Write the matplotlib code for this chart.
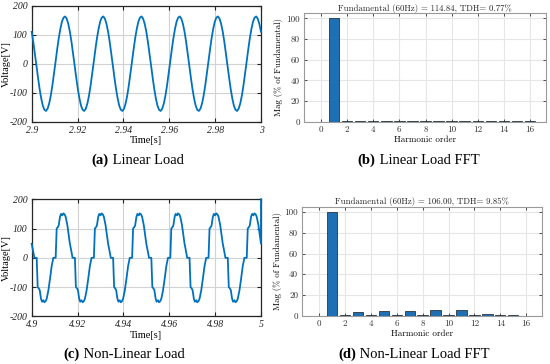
import numpy as np
import matplotlib.pyplot as plt

plt.rcParams['axes.unicode_minus'] = False

# one period (1/60 s) of each voltage waveform
period = 1 / 60
n_cycles = 6

lin_t0 = 2.9
lin_cycle_v = [110, 75, 35, -7, -49, -88, -120, -145, -159, -163, -155, -137,
               -110, -75, -35, 7, 49, 88, 120, 145, 159, 163, 155, 137]

nl_t0 = 4.9
nl_cycle_ms = [0.0, 0.58, 1.16, 2.18, 2.62, 3.05, 3.49, 4.07, 4.50, 5.09, 5.52,
               6.10, 6.54, 7.27, 7.99, 8.72, 9.45, 10.46, 10.90, 11.33, 11.77,
               12.35, 12.79, 13.37, 13.80, 14.39, 14.82, 15.55, 16.27]
nl_cycle_v = [48, 25, 0, 0, -100, -104, -110, -140, -150, -145, -152,
              -148, -140, -112, -72, -28, 0, 0, 100, 104, 110,
              140, 150, 145, 152, 148, 140, 112, 72]
nl_end_spike = 200

harmonics = list(range(0, 17))
lin_mag = [0.0, 100, 0.4, 0.2, 0.3, 0.2, 0.3, 0.2, 0.3, 0.3, 0.5, 0.3, 0.3, 0.2, 0.3, 0.2, 0.2]
nl_mag = [0.0, 100, 0.2, 3.5, 0.2, 4.2, 0.2, 4.5, 0.6, 5.5, 0.2, 5.1, 0.6, 1.6, 0.4, 0.6, 0.1]

lin_title = 'Fundamental (60Hz) = 114.84, TDH= 0.77%'
nl_title = 'Fundamental (60Hz) = 106.00, TDH= 9.85%'

blue = '#0072BD'
bar_face = '#1f6fb4'

W, H = 550, 364


def build_wave(t0, cycle_t, cycle_v):
    t, v = [], []
    for k in range(n_cycles):
        t += [t0 + k * period + x for x in cycle_t]
        v += list(cycle_v)
    t.append(t0 + n_cycles * period)
    v.append(cycle_v[0])
    return np.array(t), np.array(v)


def wave_panel(ax, t, v, xlim, xticks, xticklabels):
    ax.plot(t, v, color=blue, lw=1.3, clip_on=False, zorder=3)
    ax.set_xlim(xlim)
    ax.set_ylim(-200, 200)
    tick_font = {'family': 'Liberation Serif', 'style': 'italic', 'size': 7}
    ax.set_xticks(xticks)
    ax.set_xticklabels(xticklabels, fontdict=tick_font)
    yt = [-200, -100, 0, 100, 200]
    ax.set_yticks(yt)
    ax.set_yticklabels([str(y) for y in yt], fontdict=tick_font)
    ax.grid(True, color='#d2d2d2', lw=0.8)
    ax.tick_params(direction='in', top=True, right=True, length=3, width=0.8,
                   pad=3, colors='#222222')
    for s in ax.spines.values():
        s.set_color('#262626')
        s.set_linewidth(0.9)
    ax.set_ylabel('Voltage[V]', family='Liberation Serif', fontsize=7.5)
    ax.set_xlabel('Time[s]', family='Liberation Serif', fontsize=7.5, labelpad=1)
    pos = ax.get_position()
    ax.yaxis.set_label_coords((11 / W - pos.x0) / pos.width, 0.5)


def fft_panel(ax, mag, title):
    ax.bar(harmonics, mag, width=0.8, color=bar_face, edgecolor='#1a1a1a', lw=0.5, zorder=3)
    ax.set_xlim(-1.3, 17.2)
    ax.set_ylim(0, 105)
    ax.set_xticks(range(0, 17, 2))
    ax.set_yticks(range(0, 101, 20))
    ax.grid(True, color='#e6e6e6', lw=0.8)
    ax.tick_params(direction='in', top=True, right=True, length=2.5, width=0.6,
                   labelsize=6.5, pad=3, colors='#333333')
    for lab in ax.get_xticklabels() + ax.get_yticklabels():
        lab.set_fontfamily('cmr10')
    for s in ax.spines.values():
        s.set_color('#9a9a9a')
        s.set_linewidth(0.8)
    ax.set_title(title, family='cmr10', fontsize=6.3, pad=2, color='#222222')
    ax.set_xlabel('Harmonic order', family='cmr10', fontsize=6.5, labelpad=1)
    ax.set_ylabel('Mag (% of Fundamental)', family='cmr10', fontsize=6.3, labelpad=2)


def caption(fig, x, y, label, text):
    t1 = fig.text(x / W, 1 - y / H, label, family='Liberation Serif', fontsize=10.5,
                  fontweight='bold', va='center', ha='left')
    fig.canvas.draw()
    bb = t1.get_window_extent()
    fig.text(bb.x1 / fig.bbox.width, 1 - y / H, text, family='Liberation Serif',
             fontsize=10.5, va='center', ha='left')


fig = plt.figure(figsize=(5.5, 3.64), dpi=100)
ax_a = fig.add_axes([0.0576, 0.6657, 0.4169, 0.3186])
ax_b = fig.add_axes([0.5527, 0.6657, 0.4395, 0.2978])
ax_c = fig.add_axes([0.0576, 0.1310, 0.4169, 0.3215])
ax_d = fig.add_axes([0.5496, 0.1327, 0.4353, 0.2986])

t_lin, v_lin = build_wave(lin_t0, [k / len(lin_cycle_v) * period for k in range(len(lin_cycle_v))], lin_cycle_v)
wave_panel(ax_a, t_lin, v_lin, (2.9, 3.0),
           [2.9, 2.92, 2.94, 2.96, 2.98, 3.0], ['2.9', '2.92', '2.94', '2.96', '2.98', '3'])

t_nl, v_nl = build_wave(nl_t0, [x / 1000 for x in nl_cycle_ms], nl_cycle_v)
t_nl = np.append(t_nl, t_nl[-1])
v_nl = np.append(v_nl, nl_end_spike)
wave_panel(ax_c, t_nl, v_nl, (4.9, 5.0),
           [4.9, 4.92, 4.94, 4.96, 4.98, 5.0], ['4.9', '4.92', '4.94', '4.96', '4.98', '5'])

fft_panel(ax_b, lin_mag, lin_title)
fft_panel(ax_d, nl_mag, nl_title)

caption(fig, 91.7, 160.7, '(a)', ' Linear Load')
caption(fig, 357.7, 160.7, '(b)', ' Linear Load FFT')
caption(fig, 63.3, 354, '(c)', ' Non-Linear Load')
caption(fig, 338.3, 354, '(d)', ' Non-Linear Load FFT')

fig.savefig('out.png', dpi=100)
